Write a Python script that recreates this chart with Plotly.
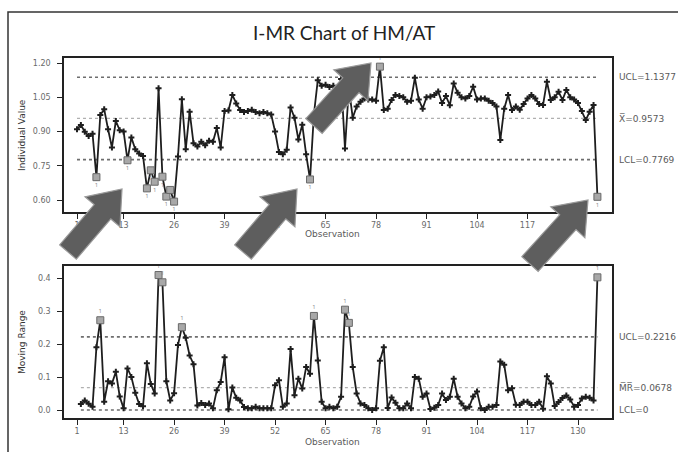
import plotly.graph_objects as go

# ---- data -------------------------------------------------------------
hm_at = [
    0.910, 0.928, 0.899, 0.880, 0.890, 0.700, 0.972, 0.997, 0.910, 0.830,
    0.946, 0.905, 0.900, 0.774, 0.874, 0.822, 0.804, 0.793, 0.651, 0.730,
    0.680, 1.089, 0.702, 0.615, 0.644, 0.593, 0.790, 1.041, 0.822, 0.987,
    0.848, 0.834, 0.855, 0.840, 0.860, 0.855, 0.915, 0.830, 0.990, 0.992,
    1.060, 1.023, 0.994, 0.985, 0.990, 0.995, 0.985, 0.980, 0.985, 0.980,
    0.975, 0.900, 0.810, 0.800, 0.820, 1.005, 0.960, 0.865, 0.930, 0.800,
    0.690, 0.975, 1.125, 1.100, 1.105, 1.095, 1.100, 1.090, 1.130, 0.826,
    1.090, 0.960, 1.010, 1.030, 1.045, 1.040, 1.040, 1.035, 1.184, 0.994,
    1.000, 1.038, 1.060, 1.055, 1.050, 1.030, 1.035, 1.135, 1.040, 1.000,
    1.050, 1.053, 1.060, 1.075, 1.025, 1.055, 1.015, 1.110, 1.070, 1.050,
    1.045, 1.055, 1.096, 1.040, 1.045, 1.045, 1.035, 1.025, 1.010, 0.863,
    1.000, 1.060, 0.994, 1.010, 0.995, 1.020, 1.045, 1.060, 1.045, 1.020,
    1.016, 1.118, 1.038, 1.050, 1.074, 1.038, 1.082, 1.050, 1.040, 1.025,
    0.990, 0.950, 0.987, 1.016, 0.614,
]
observations = list(range(1, len(hm_at) + 1))

x_ticks = [1, 13, 26, 39, 52, 65, 78, 91, 104, 117, 130]
i_ticks = [0.60, 0.75, 0.90, 1.05, 1.20]
mr_ticks = [0.0, 0.1, 0.2, 0.3, 0.4]

X_BAR, UCL_I, LCL_I = 0.9573, 1.1377, 0.7769
MR_BAR, UCL_MR, LCL_MR = 0.0678, 0.2216, 0.0

# moving ranges of consecutive observations
mr_obs = observations[1:]
mr_values = [abs(b - a) for a, b in zip(hm_at[:-1], hm_at[1:])]

# ---- page geometry (pixels) -----------------------------------------
W, H = 678, 452


def px(xp, yp):
    return xp / W, 1 - yp / H


BOX_L, BOX_R = 64, 612
TOP_T, TOP_B = 58, 212
BOT_T, BOT_B = 266, 418

INK = "#1e1e1e"
TXT = "#5a5a5a"

fig = go.Figure()

# ---- individual values ----------------------------------------------
fig.add_trace(go.Scatter(
    x=observations, y=hm_at, mode="lines+markers",
    line=dict(color=INK, width=1.8),
    marker=dict(symbol="cross", size=5, color=INK),
    xaxis="x", yaxis="y", hoverinfo="x+y", showlegend=False))

i_fail = [(o, v) for o, v in zip(observations, hm_at) if v > UCL_I or v < LCL_I]
fig.add_trace(go.Scatter(
    x=[o for o, _ in i_fail], y=[v for _, v in i_fail],
    mode="markers+text", text=["1"] * len(i_fail),
    textposition=["top center" if v > UCL_I else "bottom center" for _, v in i_fail],
    textfont=dict(size=6, color="#8a8a8a"),
    marker=dict(symbol="square", size=7, color="#a8a8a8",
                line=dict(color="#6a6a6a", width=1)),
    xaxis="x", yaxis="y", showlegend=False))

# ---- moving range ----------------------------------------------------
fig.add_trace(go.Scatter(
    x=mr_obs, y=mr_values, mode="lines+markers",
    line=dict(color=INK, width=1.8),
    marker=dict(symbol="cross", size=5, color=INK),
    xaxis="x2", yaxis="y2", showlegend=False))

mr_fail = [(o, v) for o, v in zip(mr_obs, mr_values) if v > UCL_MR]
fig.add_trace(go.Scatter(
    x=[o for o, _ in mr_fail], y=[v for _, v in mr_fail],
    mode="markers+text", text=["1"] * len(mr_fail), textposition="top center",
    textfont=dict(size=6, color="#8a8a8a"),
    marker=dict(symbol="square", size=7, color="#a8a8a8",
                line=dict(color="#6a6a6a", width=1)),
    xaxis="x2", yaxis="y2", showlegend=False))

# ---- control limits ---------------------------------------------------
shapes = []
n = len(hm_at)
for val, col, w in [(UCL_I, "#6e6e6e", 1.6), (X_BAR, "#b0b0b0", 1.3), (LCL_I, "#6e6e6e", 1.6)]:
    shapes.append(dict(type="line", xref="x", yref="y", x0=1, x1=n, y0=val, y1=val,
                       line=dict(color=col, width=w, dash="dot"), layer="below"))
for val, col, w in [(UCL_MR, "#6e6e6e", 1.6), (MR_BAR, "#b0b0b0", 1.3), (LCL_MR, "#6e6e6e", 1.6)]:
    shapes.append(dict(type="line", xref="x2", yref="y2", x0=2, x1=n, y0=val, y1=val,
                       line=dict(color=col, width=w, dash="dot"), layer="below"))

# outer frame of the page
fx0, fy0 = px(8, 12)
shapes.append(dict(type="rect", xref="paper", yref="paper", x0=fx0, y0=-0.05, x1=1.05, y1=fy0,
                   line=dict(color="#333333", width=1.5), layer="below"))


# block arrows pointing at the out-of-control regions
def block_arrow(tail, tip, shaft=11, head=23, head_len=30):
    tx, ty = tail
    hx, hy = tip
    dx, dy = hx - tx, hy - ty
    ln = (dx * dx + dy * dy) ** 0.5
    ux, uy = dx / ln, dy / ln
    nx, ny = -uy, ux
    bx, by = hx - head_len * ux, hy - head_len * uy
    pts = [
        (tx + shaft * nx, ty + shaft * ny),
        (bx + shaft * nx, by + shaft * ny),
        (bx + head * nx, by + head * ny),
        (hx, hy),
        (bx - head * nx, by - head * ny),
        (bx - shaft * nx, by - shaft * ny),
        (tx - shaft * nx, ty - shaft * ny),
    ]
    path = "M " + " L ".join("%.5f,%.5f" % px(x, y) for x, y in pts) + " Z"
    return dict(type="path", xref="paper", yref="paper", path=path,
                fillcolor="#5e5e5e", line=dict(color="#9a9a9a", width=1.2), layer="above")


for tail, tip in [((68, 252), (122, 189)), ((243, 252), (297, 189)),
                  ((314, 126), (371, 63)), ((530, 264), (588, 200))]:
    shapes.append(block_arrow(tail, tip))

# ---- text -------------------------------------------------------------
ann = []
tx, ty = px(344, 32)
ann.append(dict(text="I-MR Chart of HM/AT", x=tx, y=ty, xref="paper", yref="paper",
                xanchor="center", yanchor="middle",
                showarrow=False, font=dict(family="Lato", size=19, color="#222222")))

for label, cy in [("Individual Value", (TOP_T + TOP_B) / 2), ("Moving Range", (BOT_T + BOT_B) / 2)]:
    ax_, ay_ = px(22, cy)
    ann.append(dict(text=label, x=ax_, y=ay_, xref="paper", yref="paper", textangle=-90,
                    xanchor="center", yanchor="middle",
                    showarrow=False, font=dict(family="DejaVu Sans", size=9, color="#333333")))

for yp in (234, 442):
    ox, oy = px(332, yp)
    ann.append(dict(text="Observation", x=ox, y=oy, xref="paper", yref="paper",
                    xanchor="center", yanchor="middle",
                    showarrow=False, font=dict(family="DejaVu Sans", size=9, color=TXT)))

lab_x = 617 / W
for text, val in [("UCL=%.4f" % UCL_I, UCL_I), ("X\u0305=%.4f" % X_BAR, X_BAR), ("LCL=%.4f" % LCL_I, LCL_I)]:
    ann.append(dict(text=text, x=lab_x, y=val, xref="paper", yref="y", xanchor="left",
                    yanchor="middle",
                    showarrow=False, font=dict(family="DejaVu Sans", size=9, color=TXT)))
for text, val in [("UCL=%.4f" % UCL_MR, UCL_MR), ("M\u0305R\u0305=%.4f" % MR_BAR, MR_BAR), ("LCL=%g" % LCL_MR, LCL_MR)]:
    ann.append(dict(text=text, x=lab_x, y=val, xref="paper", yref="y2", xanchor="left",
                    yanchor="middle",
                    showarrow=False, font=dict(family="DejaVu Sans", size=9, color=TXT)))

# ---- axes ---------------------------------------------------------------
px_per_obs = (578 - 77) / 129.0
x_range = [1 - (77 - BOX_L) / px_per_obs, 1 + (BOX_R - 77) / px_per_obs]

common = dict(showline=True, mirror=True, linecolor="#222222", linewidth=1.5,
              ticks="outside", ticklen=5, tickcolor="#222222", tickwidth=1,
              showgrid=False, zeroline=False,
              tickfont=dict(family="DejaVu Sans", size=8, color="#6a6a6a"))

i_per_px = 0.6 / (200 - 63)
mr_per_px = 0.4 / (410 - 278)

fig.update_layout(
    width=W, height=H, margin=dict(l=0, r=0, t=0, b=0),
    paper_bgcolor="white", plot_bgcolor="white", showlegend=False,
    xaxis=dict(common, domain=[BOX_L / W, BOX_R / W], range=x_range, anchor="y",
               tickvals=x_ticks, ticktext=[str(t) for t in x_ticks]),
    yaxis=dict(common, domain=[1 - TOP_B / H, 1 - TOP_T / H], anchor="x",
               range=[1.20 - (TOP_B - 63) * i_per_px, 1.20 + (63 - TOP_T) * i_per_px],
               tickvals=i_ticks, ticktext=["%.2f" % t for t in i_ticks], ticklabelstandoff=5),
    xaxis2=dict(common, domain=[BOX_L / W, BOX_R / W], range=x_range, anchor="y2",
                tickvals=x_ticks, ticktext=[str(t) for t in x_ticks]),
    yaxis2=dict(common, domain=[1 - BOT_B / H, 1 - BOT_T / H], anchor="x2",
                range=[0.0 - (BOT_B - 410) * mr_per_px, 0.4 + (278 - BOT_T) * mr_per_px],
                tickvals=mr_ticks, ticktext=["%.1f" % t for t in mr_ticks], ticklabelstandoff=5),
    shapes=shapes, annotations=ann,
)

fig.write_html("out.html")
